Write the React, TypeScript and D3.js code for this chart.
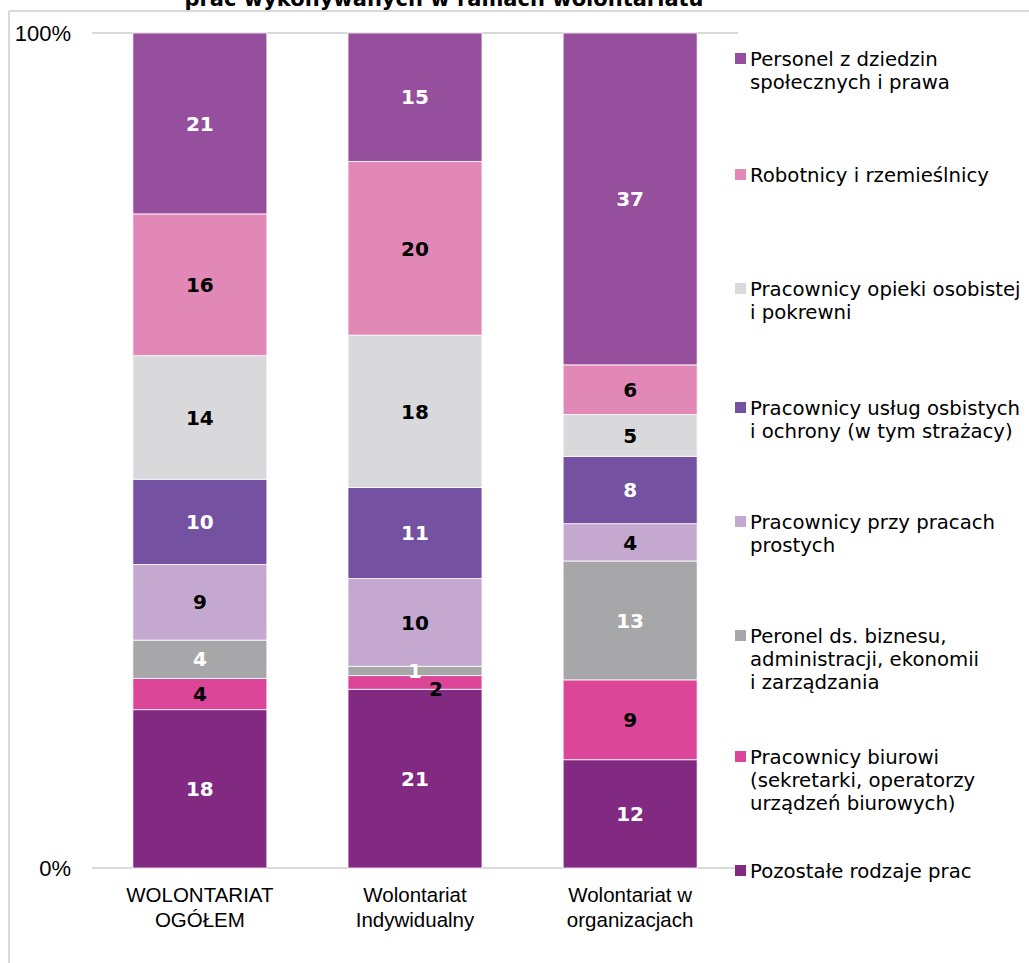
import React from "react";
import * as d3 from "d3";

// ---- Data ----
const categories: string[][] = [
  ["WOLONTARIAT", "OGÓŁEM"],
  ["Wolontariat", "Indywidualny"],
  ["Wolontariat w", "organizacjach"],
];

// series, bottom to top of the stack
const seriesNames: string[][] = [
  ["Pozostałe rodzaje prac"],
  ["Pracownicy biurowi", "(sekretarki, operatorzy", "urządzeń biurowych)"],
  ["Peronel ds. biznesu,", "administracji, ekonomii", "i zarządzania"],
  ["Pracownicy przy pracach", "prostych"],
  ["Pracownicy usług osbistych", "i ochrony (w tym strażacy)"],
  ["Pracownicy opieki osobistej", "i pokrewni"],
  ["Robotnicy i rzemieślnicy"],
  ["Personel z dziedzin", "społecznych i prawa"],
];

const pozostale = [18.2, 21.0, 12.2];
const biurowi = [3.6, 1.6, 9.0];
const biznes = [4.4, 1.1, 13.4];
const proste = [8.7, 10.3, 4.2];
const uslug = [9.8, 10.7, 7.6];
const opieki = [14.2, 17.9, 4.7];
const robotnicy = [16.3, 20.4, 5.6];
const personel = [20.8, 15.1, 37.4];

const seriesValues = [pozostale, biurowi, biznes, proste, uslug, opieki, robotnicy, personel];

const yTicks = [0, 1];

// ---- Styles ----
const colors = ["#822981", "#DC4699", "#A7A7AA", "#C4A8D0", "#7452A1", "#D9D9DB", "#E288B6", "#954F9D"];
const labelColors = ["#fff", "#000", "#fff", "#000", "#fff", "#000", "#000", "#fff"];
// legend first-line baselines (top-to-bottom legend order)
const legendBaselines = [66, 182, 296, 415, 529, 643, 764, 878];

const W = 1029;
const H = 963;
const margin = { left: 92, right: 291, top: 33, bottom: 95 };

export default function App() {
  const keys = seriesNames.map((_, i) => "s" + i);
  const rows = categories.map((_, ci) => {
    const r: any = { idx: ci };
    keys.forEach((k, si) => (r[k] = seriesValues[si][ci]));
    return r;
  });
  const stacked = d3.stack<any>().keys(keys).offset(d3.stackOffsetExpand)(rows);

  const x = d3
    .scaleBand<number>()
    .domain(categories.map((_, i) => i))
    .range([margin.left, W - margin.right])
    .paddingInner(0.377)
    .paddingOuter(0.19);
  const y = d3.scaleLinear().domain([0, 1]).range([H - margin.bottom, margin.top]);
  const fmt = d3.format(".0%");

  // label nudges (collision avoidance like in original)
  const nudge = (si: number, ci: number) => (si === 1 && ci === 1 ? { dx: 21, dy: 6 } : { dx: 0, dy: 0 });

  const legendOrder = d3.range(seriesNames.length).reverse();

  return (
    <svg
      width={W}
      height={H}
      style={{ position: "absolute", left: 0, top: 0, background: "#fff" }}
      fontFamily="DejaVu Sans, Verdana, sans-serif"
    >
      <rect x={0} y={0} width={W} height={H} fill="#fff" />
      {/* frame */}
      <line x1={9} x2={W} y1={11} y2={11} stroke="#D9D9D9" strokeWidth={2} />
      <line x1={9} x2={9} y1={11} y2={H} stroke="#D9D9D9" strokeWidth={2} />
      {/* title (partially cut, as in the original) */}
      <text x={444} y={6} textAnchor="middle" fontWeight="bold" fontSize={21} fill="#000">
        prac wykonywanych w ramach wolontariatu
      </text>

      {/* gridlines */}
      {yTicks.map((t) => (
        <line key={t} x1={margin.left} x2={W - margin.right} y1={y(t)} y2={y(t)} stroke="#D9D9D9" strokeWidth={2} />
      ))}
      {yTicks.map((t) => (
        <text
          key={"t" + t}
          x={71}
          y={y(t)}
          dy="0.36em"
          textAnchor="end"
          fontFamily="Liberation Sans, Arial, sans-serif"
          fontSize={22}
          fill="#000"
        >
          {fmt(t)}
        </text>
      ))}

      {/* bars */}
      {stacked.map((s, si) =>
        s.map((d, ci) => (
          <rect
            key={si + "-" + ci}
            x={x(ci)}
            width={x.bandwidth()}
            y={y(d[1])}
            height={y(d[0]) - y(d[1])}
            fill={colors[si]}
            stroke="#fff"
            strokeWidth={0.8}
          />
        ))
      )}
      {/* labels */}
      {stacked.map((s, si) =>
        s.map((d, ci) => {
          const n = nudge(si, ci);
          return (
            <text
              key={"l" + si + "-" + ci}
              x={(x(ci) as number) + x.bandwidth() / 2 + n.dx}
              y={(y(d[0]) + y(d[1])) / 2 + n.dy}
              dy="0.36em"
              textAnchor="middle"
              fontWeight="bold"
              fontSize={20}
              fill={labelColors[si]}
            >
              {Math.round(seriesValues[si][ci])}
            </text>
          );
        })
      )}

      {/* category labels */}
      {categories.map((lines, ci) => (
        <text
          key={"c" + ci}
          textAnchor="middle"
          fontFamily="Liberation Sans, Arial, sans-serif"
          fontSize={20.5}
          fill="#000"
        >
          {lines.map((ln, li) => (
            <tspan key={li} x={(x(ci) as number) + x.bandwidth() / 2} y={902 + li * 25}>
              {ln}
            </tspan>
          ))}
        </text>
      ))}

      {/* legend */}
      {legendOrder.map((si, k) => {
        const by = legendBaselines[k];
        return (
          <g key={"lg" + si}>
            <rect x={735} y={by - 13} width={11} height={11} fill={colors[si]} />
            <text fontSize={19.7} fill="#000">
              {seriesNames[si].map((ln, li) => (
                <tspan key={li} x={750} y={by + li * 23}>
                  {ln}
                </tspan>
              ))}
            </text>
          </g>
        );
      })}
    </svg>
  );
}
